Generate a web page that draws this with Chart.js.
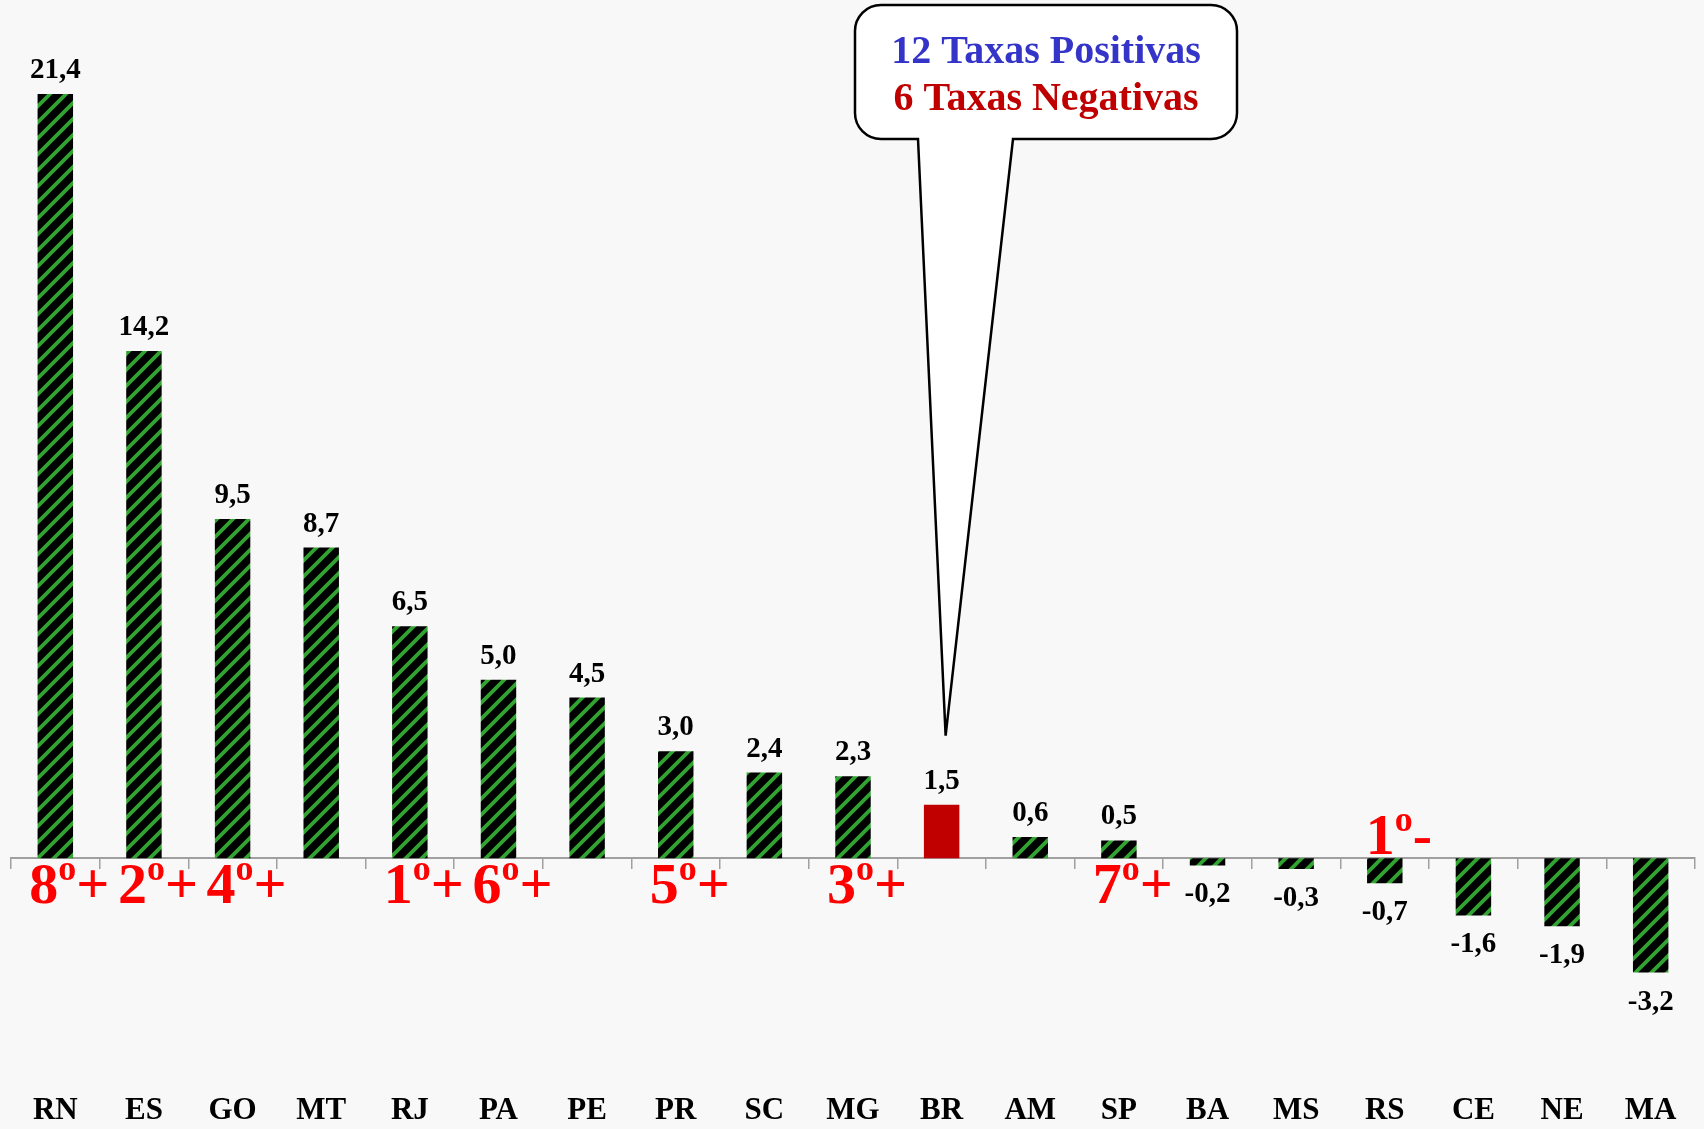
<!DOCTYPE html>
<html>
<head>
<meta charset="utf-8">
<script src="https://cdn.jsdelivr.net/npm/chart.js@4/dist/chart.umd.min.js"></script>
<style>
    body { margin: 0; background: #f8f8f8; }
    #wrap { width: 1704px; height: 1129px; position: relative; }
</style>
</head>
<body>
<div id="wrap"><canvas id="taxasChart"></canvas></div>
<script>
// Chart data
const categories = ['RN', 'ES', 'GO', 'MT', 'RJ', 'PA', 'PE', 'PR', 'SC', 'MG', 'BR', 'AM', 'SP', 'BA', 'MS', 'RS', 'CE', 'NE', 'MA'];
const values = [21.4, 14.2, 9.5, 8.7, 6.5, 5.0, 4.5, 3.0, 2.4, 2.3, 1.5, 0.6, 0.5, -0.2, -0.3, -0.7, -1.6, -1.9, -3.2];
const rankLabels = ['8º+', '2º+', '4º+', '', '1º+', '6º+', '', '5º+', '', '3º+', '', '', '7º+', '', '', '1º-', '', '', ''];
const highlightCategory = 'BR';
const calloutLines = ['12 Taxas Positivas', '6 Taxas Negativas'];
const calloutColors = ['#3434c8', '#c00000'];

const canvas = document.getElementById('taxasChart');
const ctx = canvas.getContext('2d');

// green / black diagonal hatch like the excel pattern fill
function makeHatch() {
    const c = document.createElement('canvas');
    c.width = 16;
    c.height = 16;
    const g = c.getContext('2d');
    g.fillStyle = '#000000';
    g.fillRect(0, 0, 16, 16);
    g.strokeStyle = '#31a331';
    g.lineWidth = 3.8;
    g.beginPath();
    g.moveTo(-4, 20); g.lineTo(20, -4);
    g.moveTo(-4, 4); g.lineTo(4, -4);
    g.moveTo(12, 20); g.lineTo(20, 12);
    g.stroke();
    return ctx.createPattern(c, 'repeat');
}
const hatch = makeHatch();
const barColors = categories.map(c => c === highlightCategory ? '#c00000' : hatch);

const fmt = v => v.toFixed(1).replace('.', ',');

// background fill
const bgPlugin = {
    id: 'bg',
    beforeDraw(chart) {
        const c = chart.ctx;
        c.save();
        c.fillStyle = '#f8f8f8';
        c.fillRect(0, 0, chart.width, chart.height);
        c.restore();
    }
};

// value labels + ranking labels
const labelPlugin = {
    id: 'labels',
    afterDatasetsDraw(chart) {
        const c = chart.ctx;
        const meta = chart.getDatasetMeta(0);
        const zeroY = chart.scales.y.getPixelForValue(0);
        c.save();
        c.textAlign = 'center';
        c.textBaseline = 'alphabetic';
        c.fillStyle = '#000000';
        c.font = 'bold 29px "Liberation Serif"';
        meta.data.forEach((bar, i) => {
            const v = values[i];
            const y = v >= 0 ? bar.y - 16 : bar.y + 37;
            c.fillText(fmt(v), bar.x, y);
        });

        // ranking text: digit, raised small "o", sign
        c.fillStyle = '#ff0000';
        c.textAlign = 'left';
        meta.data.forEach((bar, i) => {
            const txt = rankLabels[i];
            if (!txt) return;
            const parts = txt.split('º');
            const base = values[i] >= 0 ? zeroY + 45 : zeroY - 4;
            c.font = 'bold 58px "Liberation Serif"';
            const w1 = c.measureText(parts[0]).width;
            const w3 = c.measureText(parts[1]).width;
            c.font = 'bold 36px "Liberation Serif"';
            const w2 = c.measureText('o').width;
            let x = bar.x + 14 - (w1 + w2 + w3) / 2;
            c.font = 'bold 58px "Liberation Serif"';
            c.fillText(parts[0], x, base);
            x += w1;
            c.font = 'bold 36px "Liberation Serif"';
            c.fillText('o', x, base - 23);
            x += w2;
            c.font = 'bold 58px "Liberation Serif"';
            c.fillText(parts[1], x, base);
        });
        c.restore();
    }
};

// speech bubble pointing at the BR bar
const calloutPlugin = {
    id: 'callout',
    afterDraw(chart) {
        const c = chart.ctx;
        const idx = categories.indexOf(highlightCategory);
        const tipX = chart.scales.x.getPixelForValue(idx) + 4;
        const tipY = chart.scales.y.getPixelForValue(values[idx]) - 69;
        const left = 855, top = 5, right = 1237, bottom = 139, r = 26;
        const baseL = 918, baseR = 1013;
        c.save();
        c.beginPath();
        c.moveTo(left + r, top);
        c.lineTo(right - r, top);
        c.arcTo(right, top, right, top + r, r);
        c.lineTo(right, bottom - r);
        c.arcTo(right, bottom, right - r, bottom, r);
        c.lineTo(baseR, bottom);
        c.lineTo(tipX, tipY);
        c.lineTo(baseL, bottom);
        c.lineTo(left + r, bottom);
        c.arcTo(left, bottom, left, bottom - r, r);
        c.lineTo(left, top + r);
        c.arcTo(left, top, left + r, top, r);
        c.closePath();
        c.fillStyle = '#ffffff';
        c.fill();
        c.lineWidth = 2.5;
        c.strokeStyle = '#000000';
        c.stroke();

        c.textAlign = 'center';
        c.textBaseline = 'alphabetic';
        c.font = 'bold 40px "Liberation Serif"';
        const cx = (left + right) / 2;
        c.fillStyle = calloutColors[0];
        c.fillText(calloutLines[0], cx, 63);
        c.fillStyle = calloutColors[1];
        c.fillText(calloutLines[1], cx, 110);
        c.restore();
    }
};

new Chart(ctx, {
    type: 'bar',
    data: {
        labels: categories,
        datasets: [{
            data: values,
            backgroundColor: barColors,
            borderWidth: 0,
            barPercentage: 0.4,
            categoryPercentage: 1.0,
            xAxisID: 'x'
        }]
    },
    options: {
        responsive: true,
        maintainAspectRatio: false,
        animation: false,
        layout: { padding: { left: 11, right: 9, top: 36.75, bottom: 0 } },
        plugins: {
            legend: { display: false },
            tooltip: { enabled: false }
        },
        scales: {
            x: {
                type: 'category',
                position: 'bottom',
                offset: true,
                grid: { display: false, drawTicks: false },
                border: { display: false },
                ticks: {
                    autoSkip: false,
                    maxRotation: 0,
                    padding: 0,
                    color: '#000000',
                    font: { family: 'Liberation Serif', weight: 'bold', size: 31, lineHeight: 1.15 }
                }
            },
            x2: {
                type: 'category',
                labels: categories,
                position: { y: 0 },
                offset: true,
                grid: { display: true, offset: true, drawOnChartArea: false, drawTicks: true, tickLength: 10, color: '#a0a0a0', lineWidth: 1.5 },
                border: { display: true, color: '#a0a0a0', width: 2 },
                ticks: { display: false }
            },
            y: {
                display: false,
                min: -6.58,
                max: 23
            }
        }
    },
    plugins: [bgPlugin, labelPlugin, calloutPlugin]
});
</script>
</body>
</html>
